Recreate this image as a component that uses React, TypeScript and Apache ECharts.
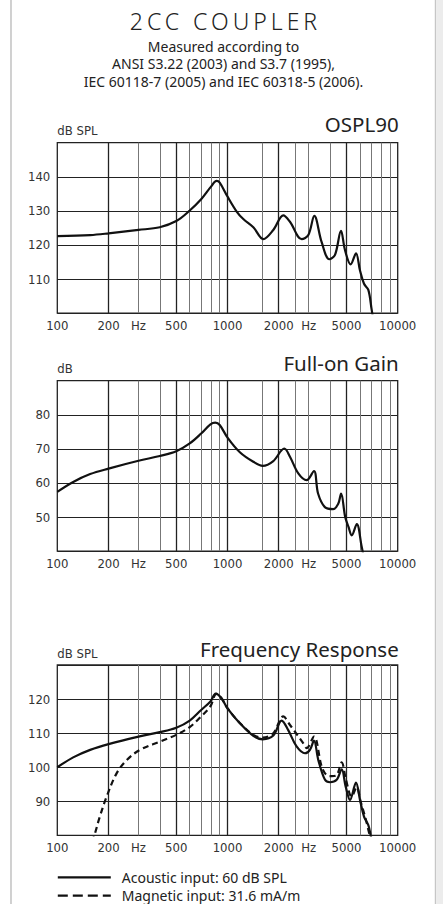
import React, { useEffect, useRef } from 'react';
import * as echarts from 'echarts';

// ---- tick labels / grid frequencies ----
const xTickValues = [100, 200, 300, 500, 1000, 2000, 3000, 5000, 10000];
const xTickLabels = ['100', '200', 'Hz', '500', '1000', '2000', 'Hz', '5000', '10000'];
const majorGridFreqs = [200, 500, 1000, 2000, 5000];
const minorGridFreqs = [300, 400, 600, 700, 800, 900, 1600, 2500, 3000, 4000, 6000, 7000, 8000, 9000];

// ---- OSPL90 ----
const osplFreq = [100, 156, 200, 300, 400, 500, 600, 700, 800, 863, 900, 1000, 1132, 1238, 1418, 1623, 1858, 2127, 2328, 2728, 2985, 3237, 3575, 3964, 4282, 4643, 4900, 5291, 5689, 6004, 6340, 6721, 7031, 7300];
const osplValues = [122.6, 122.9, 123.4, 124.4, 125.2, 127.0, 130.1, 133.4, 137.1, 138.8, 138.3, 134.2, 129.8, 127.6, 125.2, 121.7, 124.4, 128.7, 126.8, 121.7, 122.9, 128.5, 120.8, 115.8, 117.1, 124.1, 118.5, 114.3, 117.5, 112.5, 108.6, 106.8, 101.0, 96];

// ---- Full-on Gain ----
const gainFreq = [100, 124, 156, 200, 300, 400, 500, 600, 700, 794, 848, 900, 1000, 1182, 1418, 1610, 1858, 2156, 2328, 2606, 2917, 3221, 3405, 3732, 4178, 4474, 4650, 4915, 5140, 5366, 5748, 6148, 6400];
const gainValues = [57.4, 60.3, 62.6, 64.2, 66.5, 67.9, 69.3, 71.6, 74.5, 77.2, 77.7, 77.0, 73.3, 69.0, 66.2, 65.0, 66.4, 70.1, 67.7, 62.8, 60.8, 63.5, 56.9, 52.9, 52.3, 53.9, 56.9, 50.0, 47.1, 44.6, 47.9, 41.2, 37];

// ---- Frequency Response: acoustic input ----
const acousticFreq = [100, 124, 156, 200, 300, 400, 500, 600, 700, 794, 853, 920, 1000, 1182, 1418, 1610, 1858, 2080, 2274, 2546, 2852, 3050, 3221, 3417, 3740, 4002, 4379, 4686, 4948, 5246, 5688, 6004, 6340, 6720, 6940, 7100];
const acousticValues = [100, 102.9, 105.1, 106.8, 109.0, 110.3, 111.6, 113.7, 116.8, 119.3, 121.6, 120.3, 117.3, 112.9, 109.2, 108.2, 109.3, 113.7, 110.9, 106.1, 104.1, 105.1, 107.8, 102.1, 96.3, 95.6, 96.3, 99.4, 94.3, 90.4, 95.5, 90.4, 85.5, 83.0, 80, 78];

// ---- Frequency Response: magnetic input ----
const magneticFreq = [160, 166.5, 176.5, 195, 223, 256, 306, 400, 500, 600, 700, 794, 860, 920, 1000, 1182, 1418, 1610, 1858, 2127, 2329, 2790, 2917, 3221, 3575, 3824, 4093, 4379, 4686, 4969, 5364, 5741, 6059, 6510, 6800, 7000];
const magneticValues = [78, 80.6, 85, 91.4, 98.2, 102.1, 105.1, 107.5, 109.5, 111.8, 114.9, 117.9, 121.5, 120.3, 117.3, 113.0, 109.5, 108.7, 110.0, 114.9, 112.4, 107.0, 105.6, 109.0, 100.2, 97.7, 97.4, 97.7, 101.4, 96.3, 91.4, 94.1, 89.9, 84.5, 80.6, 78];

// ---- texts ----
const headerTitle = '2CC COUPLER';
const headerLines = ['Measured according to', 'ANSI S3.22 (2003) and S3.7 (1995),', 'IEC 60118-7 (2005) and IEC 60318-5 (2006).'];
const chartTitles = ['OSPL90', 'Full-on Gain', 'Frequency Response'];
const yNames = ['dB SPL', 'dB', 'dB SPL'];
const yMins = [100, 40, 80];
const yMaxs = [150, 90, 130];
const legendNames = ['Acoustic input: 60 dB SPL', 'Magnetic input: 31.6 mA/m'];

// ---- layout ----
const GRID_LEFT = 57.3;
const GRID_WIDTH = 340.4;
const GRID_HEIGHT = 170.4;
const gridTops = [142.7, 380.7, 665.0];
const titleYs = [124, 363.3, 648.5];
const subtitleYs = [46, 63.8, 81.6];

const NARROW = '"Liberation Sans Narrow", "Arial Narrow", "DejaVu Sans Condensed", "Roboto Condensed", sans-serif';
const SANS = '"Noto Sans", "Open Sans", sans-serif';

const zip = (xs: number[], ys: number[]) => xs.map((x, i) => [x, ys[i]]);

const gridMarkLine = () => ({
  silent: true,
  symbol: ['none', 'none'],
  z: 1,
  animation: false,
  label: { show: false },
  emphasis: { disabled: true },
  data: [
    ...majorGridFreqs.map((f) => ({ xAxis: f, lineStyle: { color: '#222', width: 1.3, type: 'solid' } })),
    ...minorGridFreqs.map((f) => ({ xAxis: f, lineStyle: { color: '#777', width: 1, type: 'solid' } })),
  ],
});

export default function App() {
  const headRef = useRef<HTMLDivElement>(null);
  const mainRef = useRef<HTMLDivElement>(null);

  useEffect(() => {
    const head = echarts.init(headRef.current!, null, { renderer: 'svg' });
    const main = echarts.init(mainRef.current!, null, { renderer: 'svg' });

    head.setOption({
      animation: false,
      graphic: [
        {
          type: 'text',
          x: 225.5,
          y: 20.8,
          style: {
            text: headerTitle,
            fill: '#222',
            fontSize: 23,
            fontWeight: 300,
            fontFamily: SANS,
            align: 'center',
            verticalAlign: 'middle',
          },
        },
      ],
    });

    const grids = gridTops.map((top) => ({
      left: GRID_LEFT,
      top,
      width: GRID_WIDTH,
      height: GRID_HEIGHT,
      show: true,
      borderColor: '#222',
      borderWidth: 1.3,
      backgroundColor: 'transparent',
    }));

    const xAxes = gridTops.map((_, i) => ({
      type: 'log',
      logBase: 10,
      gridIndex: i,
      min: 100,
      max: 10000,
      axisLine: { show: false },
      axisTick: { show: false },
      splitLine: { show: false },
      minorTick: { show: false },
      minorSplitLine: { show: false },
      axisLabel: {
        customValues: xTickValues,
        formatter: (v: number) => {
          const idx = xTickValues.findIndex((t) => Math.abs(t - v) < t * 1e-6);
          return idx >= 0 ? xTickLabels[idx] : '';
        },
        margin: 6,
        fontSize: 13,
        color: '#333',
        fontFamily: NARROW,
      },
    }));

    const yAxes = gridTops.map((_, i) => ({
      type: 'value',
      gridIndex: i,
      min: yMins[i],
      max: yMaxs[i],
      interval: 10,
      name: yNames[i],
      nameLocation: 'end',
      nameGap: 12,
      nameTextStyle: { align: 'left', verticalAlign: 'middle', fontSize: 13, color: '#333', fontFamily: NARROW },
      axisLine: { show: false },
      axisTick: { show: false },
      splitLine: { show: true, lineStyle: { color: '#222', width: 1.2 } },
      axisLabel: {
        showMinLabel: false,
        showMaxLabel: false,
        margin: 7,
        fontSize: 13,
        color: '#333',
        fontFamily: NARROW,
      },
    }));

    const curve = { color: '#111', width: 2.2 };

    main.setOption({
      animation: false,
      backgroundColor: '#fff',
      grid: grids,
      xAxis: xAxes,
      yAxis: yAxes,
      legend: {
        orient: 'vertical',
        left: 56.7,
        top: 870.3,
        padding: 0,
        itemWidth: 53,
        itemHeight: 14,
        itemGap: 4.4,
        selectedMode: false,
        itemStyle: { opacity: 0 },
        textStyle: { fontSize: 14, color: '#222', fontFamily: SANS, padding: [0, 0, 0, 6] },
        data: [
          { name: legendNames[0], lineStyle: { type: 'solid', width: 2.2, color: '#111' } },
          { name: legendNames[1], lineStyle: { type: [10, 5], width: 2.2, color: '#111' } },
        ],
      },
      series: [
        {
          name: chartTitles[0],
          type: 'line',
          xAxisIndex: 0,
          yAxisIndex: 0,
          data: zip(osplFreq, osplValues),
          symbol: 'none',
          smooth: 0.35,
          clip: true,
          z: 3,
          lineStyle: curve,
          markLine: gridMarkLine(),
        },
        {
          name: chartTitles[1],
          type: 'line',
          xAxisIndex: 1,
          yAxisIndex: 1,
          data: zip(gainFreq, gainValues),
          symbol: 'none',
          smooth: 0.35,
          clip: true,
          z: 3,
          lineStyle: curve,
          markLine: gridMarkLine(),
        },
        {
          name: legendNames[0],
          type: 'line',
          xAxisIndex: 2,
          yAxisIndex: 2,
          data: zip(acousticFreq, acousticValues),
          symbol: 'none',
          smooth: 0.35,
          clip: true,
          z: 3,
          lineStyle: curve,
          markLine: gridMarkLine(),
        },
        {
          name: legendNames[1],
          type: 'line',
          xAxisIndex: 2,
          yAxisIndex: 2,
          data: zip(magneticFreq, magneticValues),
          symbol: 'none',
          smooth: 0.35,
          clip: true,
          z: 3,
          lineStyle: { color: '#111', width: 2.2, type: [6, 4] },
        },
      ],
      graphic: [
        { type: 'rect', silent: true, shape: { x: 10.3, y: 0, width: 1.4, height: 904 }, style: { fill: '#bdbdbd' } },
        { type: 'rect', silent: true, shape: { x: 434.8, y: 0, width: 1.4, height: 904 }, style: { fill: '#c6c6c6' } },
        { type: 'rect', silent: true, shape: { x: 436.2, y: 0, width: 6.8, height: 904 }, style: { fill: '#ececec' } },
        ...headerLines.map((t, i) => ({
          type: 'text',
          x: 223.5,
          y: subtitleYs[i],
          style: { text: t, fill: '#222', fontSize: 14, fontFamily: SANS, align: 'center', verticalAlign: 'middle' },
        })),
        ...chartTitles.map((t, i) => ({
          type: 'text',
          x: GRID_LEFT + GRID_WIDTH + 1,
          y: titleYs[i],
          style: { text: t, fill: '#222', fontSize: 20.5, fontFamily: SANS, align: 'right', verticalAlign: 'middle' },
        })),
      ],
    });

    return () => {
      head.dispose();
      main.dispose();
    };
  }, []);

  return (
    <div style={{ position: 'absolute', left: 0, top: 0, width: 443, height: 904, background: '#fff' }}>
      <div ref={mainRef} style={{ position: 'absolute', left: 0, top: 0, width: 443, height: 904 }} />
      <div ref={headRef} style={{ position: 'absolute', left: 0, top: 0, width: 443, height: 40, letterSpacing: '4px' }} />
    </div>
  );
}
